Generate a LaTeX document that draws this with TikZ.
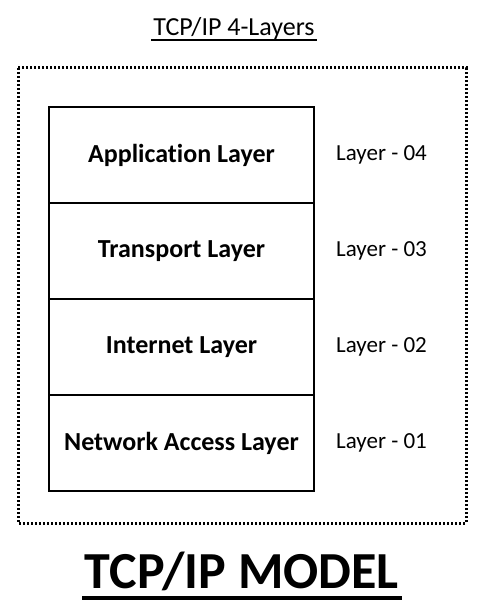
\documentclass[tikz,border=0pt]{standalone}
\usepackage{fontspec}
\setmainfont[Ligatures=NoCommon]{Carlito}
\usetikzlibrary{positioning}
\begin{document}
\begin{tikzpicture}[x=1pt,y=-1pt]
\newcommand{\layerfont}{\bfseries\fontsize{26}{30}\selectfont}
\newcommand{\numfont}{\fontsize{23}{27}\selectfont}
\tikzset{layerbox/.style={draw, line width=1.8pt, minimum width=265pt, minimum height=96pt, inner sep=0pt, outer sep=0pt, font=\layerfont},
  layernum/.style={right=22pt of #1, font=\numfont, inner sep=0pt},
  frame/.style={line width=3pt, dash pattern=on 2.2pt off 1.8pt}}
    \useasboundingbox (0,0) rectangle (491,607);

    % heading
    \node[anchor=base, font=\fontsize{26}{30}\selectfont, inner sep=0pt] (heading) at (234,36) {TCP/IP 4-Layers};
    \draw[line width=1.4pt] (151,40) -- (317,40);

    % dotted frame
    \draw[frame] (18,68) rectangle (466,523);

    % stack
    \node[layerbox] (app) at (181.5,155) {Application Layer};
    \node[layerbox, below=0pt of app] (trans) {Transport Layer};
    \node[layerbox, below=0pt of trans] (inet) {Internet Layer};
    \node[layerbox, below=0pt of inet] (netacc) {Network Access Layer};

    \node[layernum=app] (n4) {Layer - 04};
    \node[layernum=trans] (n3) {Layer - 03};
    \node[layernum=inet] (n2) {Layer - 02};
    \node[layernum=netacc] (n1) {Layer - 01};

    % model name
    \node[anchor=base, font=\bfseries\fontsize{52}{60}\selectfont, inner sep=0pt] (model) at (242,588) {TCP/IP MODEL};
    \draw[line width=3.6pt] (82,598) -- (402,598);
\end{tikzpicture}
\end{document}
